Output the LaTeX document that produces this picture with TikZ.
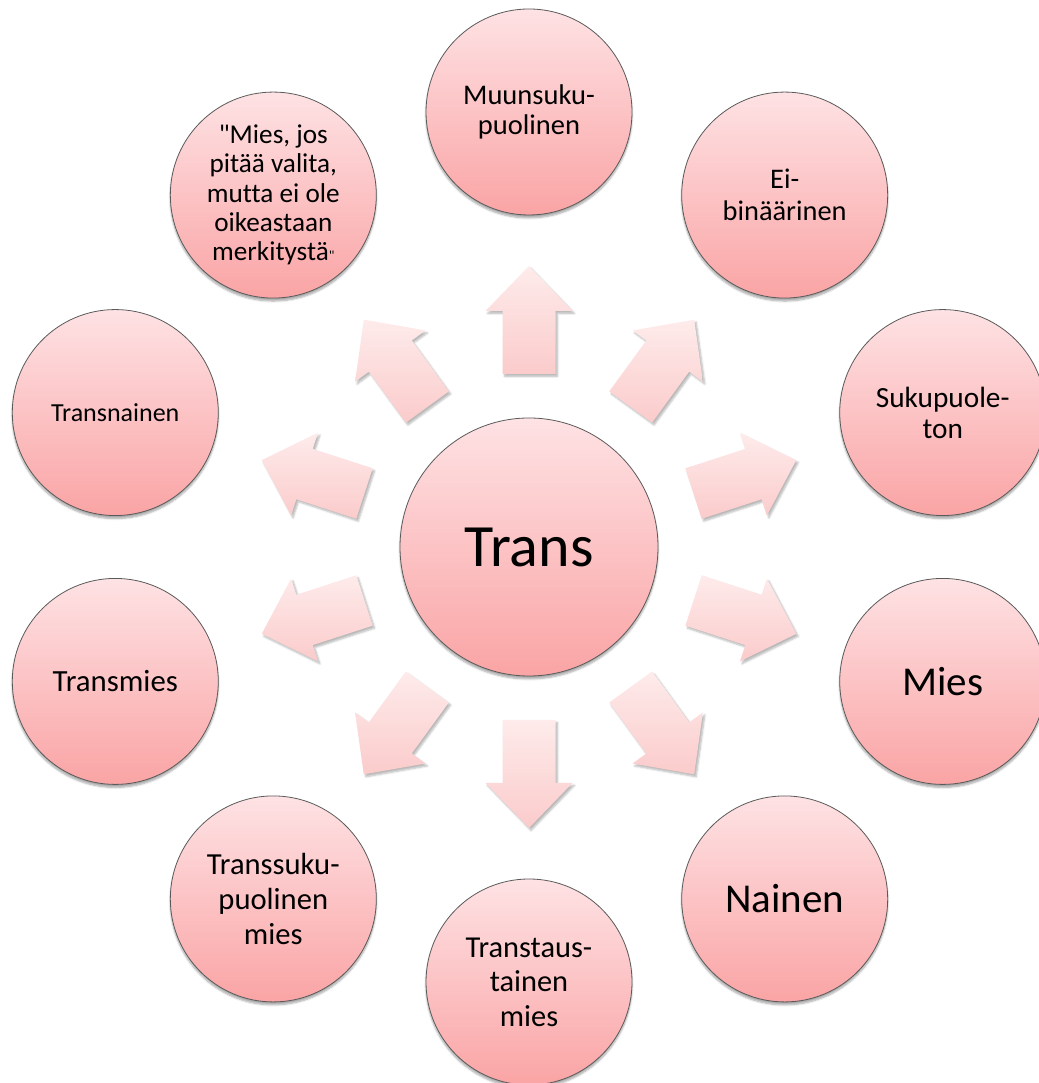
\documentclass[tikz,border=0pt]{standalone}
\usepackage{fontspec}
\setmainfont{Carlito}[Ligatures={TeXOff,CommonOff}]
\usetikzlibrary{calc,shadows.blur}
\definecolor{ctop}{RGB}{254,226,228}
\definecolor{cbot}{RGB}{250,164,165}
\definecolor{atop}{RGB}{254,235,235}
\definecolor{abot}{RGB}{251,203,203}
\definecolor{edgegray}{RGB}{90,90,90}
\tikzset{
  bubble/.style={circle, draw=edgegray, line width=0.8pt, top color=ctop, bottom color=cbot,
    minimum size=206pt, inner sep=0pt, align=center, text=black,
    blur shadow={shadow xshift=0pt, shadow yshift=-3pt, shadow blur steps=6, shadow opacity=35}},
  hub/.style={bubble, minimum size=258pt},
  blockarrow/.style={top color=atop, bottom color=abot, draw=none,
    blur shadow={shadow xshift=2pt, shadow yshift=-2.5pt, shadow blur steps=5, shadow opacity=28}},
}
\begin{document}
\begin{tikzpicture}[x=1pt,y=1pt]
\useasboundingbox (0,0) rectangle (1038,1083);
\coordinate (ctr) at (529,536);
\foreach \a in {90,54,18,-18,-54,-90,-126,-162,162,126}{
  \path[blockarrow]
    ($(ctr)+(\a:173)+({\a+90}:26.5)$) --
    ($(ctr)+(\a:236)+({\a+90}:26.5)$) --
    ($(ctr)+(\a:236)+({\a+90}:43.5)$) --
    ($(ctr)+(\a:281)$) --
    ($(ctr)+(\a:236)+({\a-90}:43.5)$) --
    ($(ctr)+(\a:236)+({\a-90}:26.5)$) --
    ($(ctr)+(\a:173)+({\a-90}:26.5)$) -- cycle;
}
\node[hub, font=\fontsize{60}{66}\selectfont] (trans) at (ctr) {Trans};
\node[bubble, font=\fontsize{28.5}{30}\selectfont] (muun) at ($(ctr)+(90:435)$) {Muunsuku-\\puolinen};
\node[bubble, font=\fontsize{28.4}{32}\selectfont] (eibin) at ($(ctr)+(54:435)$) {Ei-\\binäärinen};
\node[bubble, font=\fontsize{29.3}{31}\selectfont] (sukup) at ($(ctr)+(18:435)$) {Sukupuole-\\ton};
\node[bubble, font=\fontsize{41}{45}\selectfont] (mies) at ($(ctr)+(-18:435)$) {Mies};
\node[bubble, font=\fontsize{41}{45}\selectfont] (nainen) at ($(ctr)+(-54:435)$) {Nainen};
\node[bubble, font=\fontsize{30.4}{34.5}\selectfont] (transtaus) at ($(ctr)+(-90:435)$) {Transtaus-\\tainen\\mies};
\node[bubble, font=\fontsize{30.6}{35}\selectfont] (transsuku) at ($(ctr)+(-126:435)$) {Transsuku-\\puolinen\\mies};
\node[bubble, font=\fontsize{30.8}{34}\selectfont] (transmies) at ($(ctr)+(-162:435)$) {Transmies};
\node[bubble, font=\fontsize{26}{30}\selectfont] (transnainen) at ($(ctr)+(162:435)$) {Transnainen};
\node[bubble, font=\fontsize{27.2}{29.3}\selectfont] (miesjos) at ($(ctr)+(126:435)$) {"Mies, jos\\pitää valita,\\mutta ei ole\\oikeastaan\\merkitystä{\fontsize{14}{14}\selectfont"}};
\end{tikzpicture}
\end{document}
